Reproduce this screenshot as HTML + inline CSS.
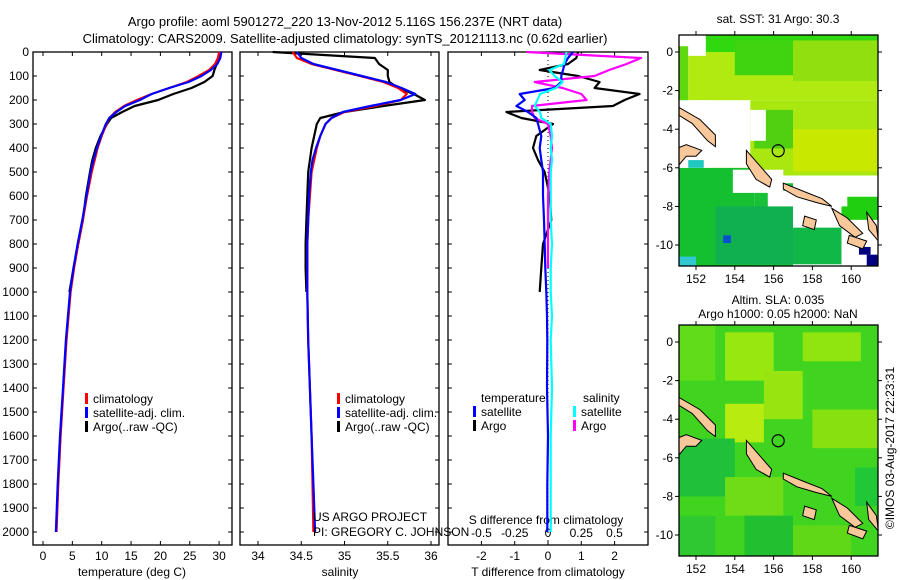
<!DOCTYPE html>
<html><head><meta charset="utf-8"><style>
body{margin:0;background:#fff;}
svg{display:block;font-family:"Liberation Sans",sans-serif;}
</style></head><body>
<svg id="c" width="900" height="580" viewBox="0 0 900 580" xmlns="http://www.w3.org/2000/svg">
<text x="345" y="26" font-size="13" text-anchor="middle">Argo profile: aoml 5901272_220 13-Nov-2012 5.116S 156.237E (NRT data)</text>
<text x="345" y="43" font-size="13" text-anchor="middle">Climatology: CARS2009. Satellite-adjusted climatology: synTS_20121113.nc (0.62d earlier)</text>
<g id="p1"></g>
<g id="p2"></g>
<g id="p3"></g>
<g id="m1"></g>
<g id="m2"></g>
<text x="778" y="23" font-size="12" text-anchor="middle">sat. SST: 31 Argo: 30.3</text>
<text x="778" y="304" font-size="12" text-anchor="middle">Altim. SLA: 0.035</text>
<text x="778" y="318" font-size="12" text-anchor="middle">Argo h1000: 0.05 h2000: NaN</text>
<text transform="translate(894,448) rotate(-90)" font-size="12" text-anchor="middle">©IMOS 03-Aug-2017 22:23:31</text>
<text x="313" y="521" font-size="12">US ARGO PROJECT</text>
<text x="313" y="536" font-size="12">PI: GREGORY C. JOHNSON</text>
</svg>
<script>
// ---- data ----
const depths = [0,25,50,75,100,125,150,175,200,225,250,275,300,350,400,450,500,600,700,800,900,1000,1200,1400,1600,1800,2000];
const tempClim = [30.0,29.8,29.3,28.3,26.5,24.5,21.5,18.5,16.0,13.8,12.3,11.3,10.8,10.0,9.3,8.8,8.3,7.5,6.8,6.0,5.3,4.7,4.0,3.5,3.0,2.6,2.3];
const tempSat  = [30.4,30.2,29.7,28.6,27.0,24.8,21.5,18.5,16.5,14.0,12.5,11.3,10.7,9.9,9.2,8.6,8.1,7.4,6.7,5.9,5.2,4.6,3.9,3.4,2.9,2.5,2.2];
const tempArgo = [30.3,30.0,29.6,29.2,28.9,27.5,25.3,22.2,19.6,15.6,13.5,11.6,10.9,9.8,9.0,8.4,8.0,7.3,6.8,6.0,5.2,4.5];
const salClim = [34.40,34.45,34.62,34.90,35.18,35.45,35.62,35.72,35.65,35.35,35.00,34.85,34.78,34.72,34.68,34.65,34.62,34.60,34.58,34.57,34.57,34.57,34.58,34.60,34.62,34.63,34.64];
const salSat  = [34.45,34.50,34.64,34.92,35.20,35.48,35.66,35.82,35.65,35.30,34.98,34.85,34.78,34.72,34.67,34.63,34.61,34.59,34.58,34.57,34.57,34.57,34.58,34.60,34.62,34.64,34.66];
const salArgo = [34.17,35.35,35.40,35.50,35.50,35.52,35.62,35.80,35.93,35.45,35.00,34.72,34.68,34.65,34.62,34.60,34.58,34.57,34.56,34.55,34.55,34.56];
const dDepths = [0,25,50,75,100,125,150,175,200,225,250,275,300,350,400,450,500,600,700,800,900,1000,1100,1200,1400,1600,1800,2000];
const tDiffSat  = [0.75,0.6,0.5,0.45,0.4,0.4,0.2,-0.85,-0.7,-0.95,-0.6,-0.35,-0.3,-0.2,-0.25,-0.2,-0.15,-0.15,-0.12,-0.1,-0.08,-0.05,-0.03,-0.02,-0.03,0,-0.02,-0.02];
const tDiffArgo = [0.9,0.85,0.6,-0.25,0.9,1.55,1.4,2.75,2.3,1.95,-1.25,-0.8,0.15,-0.35,-0.45,-0.3,-0.1,0.05,0.1,-0.15,-0.2,-0.25];
const sDiffSat  = [0.14,0.13,0.12,0.01,0.05,0.11,0.06,-0.06,-0.08,-0.1,-0.06,-0.05,0.02,0.03,0.02,0.03,0.02,0.02,0.02,0.03,0.02,0.02,0.03,0.02,0.03,0.02,0.02,0.02];
const sDiffArgo = [-0.16,0.7,0.59,0.46,0.35,-0.1,0.11,0.25,0.29,-0.12,-0.12,-0.1,0.0,0.02,0.03,0.02,0.01,0.0,0.0,0.0,0.0];
const tempTicks = [0,5,10,15,20,25,30];
const salTicks = [34,34.5,35,35.5,36];
const tdTicks = [-2,-1,0,1,2];
const sdTicks = [-0.5,-0.25,0,0.25,0.5];
const sdTickLabels = ["-0.5","-0.25","0","0.25","0.5"];
const depthTicks = [0,100,200,300,400,500,600,700,800,900,1000,1100,1200,1300,1400,1500,1600,1700,1800,1900,2000];
const lonTicks = [152,154,156,158,160];
const latTicks = [0,-2,-4,-6,-8,-10];
const argoPos = [156.237,-5.116];

// ---- helpers ----
const NS="http://www.w3.org/2000/svg";
function mk(parent,tag,attrs){const e=document.createElementNS(NS,tag);for(const k in attrs)e.setAttribute(k,attrs[k]);parent.appendChild(e);return e;}
const yD = d => 52 + d*0.2400;
function frame(g,x0,x1,y0,y1){const r=mk(g,'rect',{x:x0,y:y0,width:x1-x0,height:y1-y0,fill:'none',stroke:'#000','stroke-width':1.3});}
function line(g,xs,ds,xf,color,w,name){let p='';xs.forEach((v,i)=>{p+=(i?'L':'M')+xf(v).toFixed(1)+','+yD(ds[i]).toFixed(1);});const e=mk(g,'path',{d:p,fill:'none',stroke:color,'stroke-width':w,'stroke-linejoin':'round'});}
function depthAxis(g,x0,x1,labels){depthTicks.forEach(d=>{mk(g,'line',{x1:x0,x2:x0+4,y1:yD(d),y2:yD(d),stroke:'#000'});mk(g,'line',{x1:x1-4,x2:x1,y1:yD(d),y2:yD(d),stroke:'#000'});if(labels){const t=mk(g,'text',{x:x0-4,y:yD(d)+4,'font-size':12,'text-anchor':'end'});t.textContent=d;}});}
function xAxis(g,ticks,labs,xf,yBot,yTop,ly){ticks.forEach((v,i)=>{mk(g,'line',{x1:xf(v),x2:xf(v),y1:yBot,y2:yBot-4,stroke:'#000'});mk(g,'line',{x1:xf(v),x2:xf(v),y1:yTop,y2:yTop+4,stroke:'#000'});const t=mk(g,'text',{x:xf(v),y:ly,'font-size':12,'text-anchor':'middle'});t.textContent=labs[i];});}
function label(g,x,y,txt,name,anchor){const t=mk(g,'text',{x:x,y:y,'font-size':12,'text-anchor':anchor||'middle'});t.textContent=txt;}
function legend(g,x,y,items){items.forEach((it,i)=>{const r=mk(g,'rect',{x:x,y:y+i*14-10,width:3,height:11,fill:it[1]});label(g,x+8,y+i*14,it[0],'legend-entry','start');});}

// ---- panel 1 ----
const P1=document.getElementById('p1');
const xT = v => 43 + v*5.87;
frame(P1,33,232,52,545);depthAxis(P1,33,232,true);
xAxis(P1,tempTicks,tempTicks.map(String),xT,545,52,560);
label(P1,132,576,'temperature (deg C)','x-axis-title');
line(P1,tempArgo,depths.slice(0,tempArgo.length),xT,'#000',2.2,'temp-argo-line');
line(P1,tempClim,depths,xT,'#f00',2.2,'temp-clim-line');
line(P1,tempSat,depths,xT,'#00f',2.2,'temp-sat-line');
legend(P1,85,403,[['climatology','#f00'],['satellite-adj. clim.','#00f'],['Argo(..raw -QC)','#000']]);

// ---- panel 2 ----
const P2=document.getElementById('p2');
const xS = v => 258 + (v-34)*86.5;
frame(P2,240,439,52,545);depthAxis(P2,240,439,false);
xAxis(P2,salTicks,['34','34.5','35','35.5','36'],xS,545,52,560);
label(P2,340,576,'salinity','x-axis-title');
line(P2,salArgo,depths.slice(0,salArgo.length),xS,'#000',2.2,'sal-argo-line');
line(P2,salClim,depths,xS,'#f00',2.2,'sal-clim-line');
line(P2,salSat,depths,xS,'#00f',2.2,'sal-sat-line');
legend(P2,337,403,[['climatology','#f00'],['satellite-adj. clim.','#00f'],['Argo(..raw -QC)','#000']]);

// ---- panel 3 ----
const P3=document.getElementById('p3');
const xTD = v => 548 + v*33.3;
const xSD = v => 548 + v*133;
frame(P3,448,648,52,545);depthAxis(P3,448,648,false);
mk(P3,'line',{x1:548,x2:548,y1:52,y2:545,stroke:'#000','stroke-dasharray':'1,3'});
xAxis(P3,tdTicks,tdTicks.map(String),xTD,545,52,560);
sdTicks.forEach((v,i)=>{const t=mk(P3,'text',{x:xSD(v),y:537,'font-size':12,'text-anchor':'middle'});t.textContent=sdTickLabels[i];});
label(P3,546,524,'S difference from climatology','s-diff-axis-title');
label(P3,548,576,'T difference from climatology','t-diff-axis-title');
line(P3,tDiffArgo,dDepths.slice(0,tDiffArgo.length),xTD,'#000',2.2,'tdiff-argo-line');
line(P3,sDiffArgo,dDepths.slice(0,sDiffArgo.length),xSD,'#f0f',2.2,'sdiff-argo-line');
line(P3,tDiffSat,dDepths,xTD,'#00f',2.2,'tdiff-sat-line');
line(P3,sDiffSat,dDepths,xSD,'#0ff',2.2,'sdiff-sat-line');
label(P3,481,402,'temperature','legend-title-temperature','start');
label(P3,583,402,'salinity','legend-title-salinity','start');
legend(P3,473,416,[['satellite','#00f'],['Argo','#000']]);
legend(P3,573,416,[['satellite','#0ff'],['Argo','#f0f']]);

// ---- maps ----
const lonX = v => 696 + (v-152)*19.4;
function drawMap(g,yTop,blocks){
  const latY = v => yTop+17 - v*19.3;
  const cp=mk(g,'clipPath',{id:'cp'+yTop});mk(cp,'rect',{x:679,y:yTop,width:199,height:231});
  const inner=mk(g,'g',{'clip-path':'url(#cp'+yTop+')'});
  blocks.forEach(b=>{const r=mk(inner,'rect',{x:lonX(b[0]),y:latY(b[1]),width:(b[2]-b[0])*19.4,height:(b[1]-b[3])*19.3,fill:b[4]});});
  const lands=[[[151.0,-2.8],[152.2,-3.5],[153.0,-4.3],[153.0,-4.9],[152.6,-4.6],[151.8,-3.7],[151.0,-3.2]],
    [[151.0,-5.0],[151.5,-4.8],[152.3,-5.1],[152.0,-5.4],[151.5,-5.4],[151.0,-6.0]],
    [[154.6,-5.1],[155.3,-5.9],[155.9,-6.6],[155.8,-7.0],[155.1,-6.6],[154.6,-5.8]],
    [[156.5,-6.8],[157.5,-7.2],[158.5,-7.6],[159.0,-8.0],[158.2,-7.8],[157.2,-7.5],[156.5,-7.1]],
    [[159.0,-8.1],[159.8,-8.6],[160.6,-9.4],[160.2,-9.6],[159.4,-9.0]],
    [[159.9,-9.5],[160.8,-9.8],[160.6,-10.2],[159.8,-9.9]],
    [[160.8,-8.3],[161.3,-9.0],[161.4,-9.8],[160.9,-9.2]],
    [[157.6,-8.5],[158.2,-8.7],[158.1,-9.2],[157.5,-9.0]]];
  lands.forEach(l=>{const p=mk(inner,'polygon',{points:l.map(q=>lonX(q[0]).toFixed(1)+','+latY(q[1]).toFixed(1)).join(' '),fill:'#f8c89a',stroke:'#000','stroke-width':1});});
  const c=mk(g,'circle',{cx:lonX(argoPos[0]),cy:latY(argoPos[1]),r:6,fill:'none',stroke:'#000','stroke-width':1.2});
  frame(g,679,878,yTop,yTop+231);
  lonTicks.forEach(v=>{mk(g,'line',{x1:lonX(v),x2:lonX(v),y1:yTop,y2:yTop-4,stroke:'#000'});mk(g,'line',{x1:lonX(v),x2:lonX(v),y1:yTop+231,y2:yTop+235,stroke:'#000'});label(g,lonX(v),yTop+248,String(v),'lon-tick-label');});
  latTicks.forEach(v=>{mk(g,'line',{x1:675,x2:679,y1:latY(v),y2:latY(v),stroke:'#000'});mk(g,'line',{x1:878,x2:882,y1:latY(v),y2:latY(v),stroke:'#000'});label(g,673,latY(v)+4,String(v),'lat-tick-label','end');});
}
const map1Blocks=[
 [151,1,162,-12,'#fff'],
 [152.5,1,162,0.0,'#30d810'],[151,0.3,151.6,-2.8,'#60d810'],[151.6,0.0,162,-2.5,'#b0ea10'],[154,0.6,157,-1.2,'#40d410'],[157,0.6,161.4,-1.5,'#90e010'],
 [152.8,-2.5,162,-6.4,'#a8e810'],[155,-3,157,-5,'#50d010'],[157,-4,161.4,-6.2,'#c8e800'],
 [151,-6,155,-12,'#14c030'],[155,-6.8,157,-12,'#18c038'],[153,-8,157,-11,'#10b050'],[157,-9.1,159.8,-11,'#10b848'],
 [159.5,-7.5,161.4,-8.7,'#20d010'],
 [151,-2.5,154.8,-6,'#fff'],[154.8,-3,155.6,-4.6,'#fff'],[155.7,-7.2,159.8,-8,'#fff'],[159.5,-8.7,162,-12,'#fff'],[153.9,-6.1,156.5,-7.3,'#fff'],
 [151.6,0.9,152.5,-0.2,'#fff'],[151.6,-5.6,152.4,-6.0,'#20c8c0'],[153.4,-9.5,153.8,-9.9,'#0850d0'],[160.4,-10.1,161.0,-10.5,'#000080'],[160.8,-10.5,161.4,-11.2,'#000080'],[151,-10.6,152,-11.2,'#30c8d0']];
const map2Blocks=[
 [151,1,162,-12,'#40d420'],[151,1,153,-2,'#60dc18'],[153.5,0.5,156,-2,'#98e810'],[157.5,0.5,160.5,-1,'#90e410'],
 [153.5,-3.2,155.5,-5.2,'#b8ec10'],[155.5,-1.5,157.5,-4,'#98e410'],[158,-3.5,161.4,-5.5,'#88e010'],
 [151,-5,154,-8,'#20c038'],[153.5,-7,156.5,-9,'#70dc18'],[154.5,-9,157,-11.2,'#20c030'],[157,-9.5,160,-11.2,'#60d818'],[151,-9,153,-11.2,'#30c830'],[160.2,-6.5,161.4,-8.5,'#20c838']];
drawMap(document.getElementById('m1'),35,map1Blocks);
drawMap(document.getElementById('m2'),325,map2Blocks);
</script>
</body></html>
